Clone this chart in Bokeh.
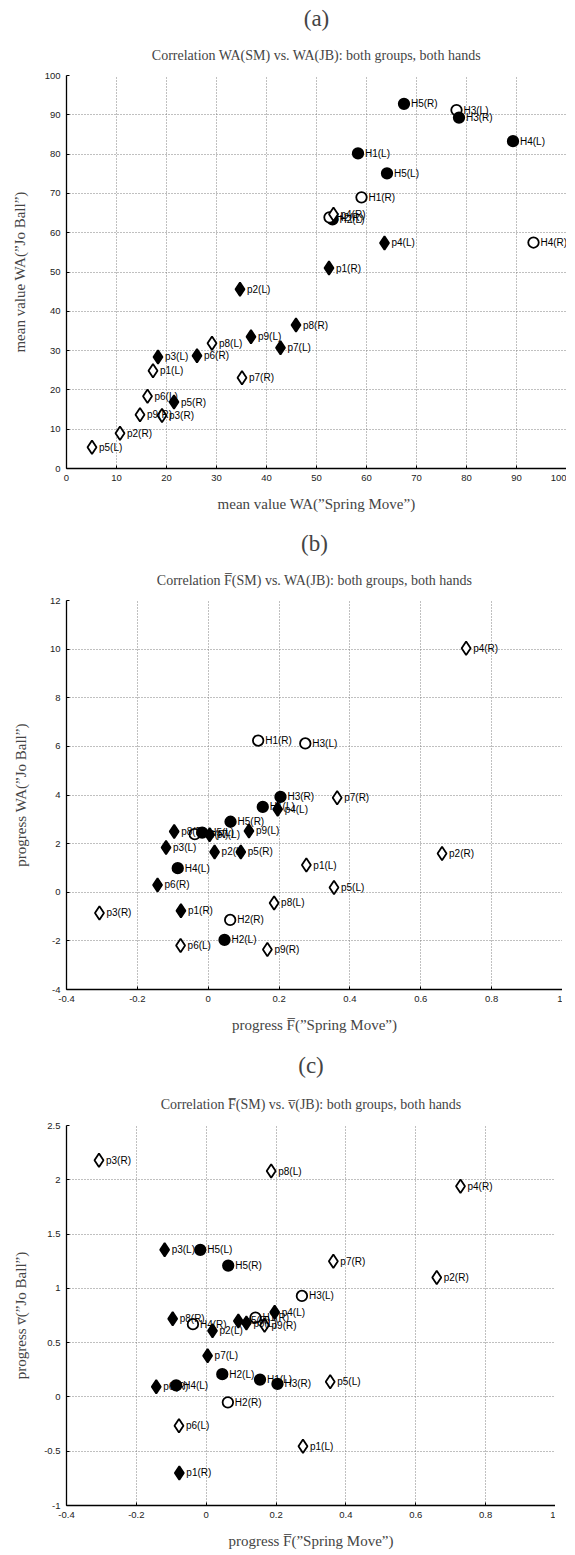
from bokeh.plotting import figure
from bokeh.models import Title, FixedTicker, ColumnDataSource, Range1d
from bokeh.layouts import column
from bokeh.core.properties import value, field
from bokeh.embed import file_html
from bokeh.resources import INLINE

# ---------------- data ----------------
names = ["H1(L)", "H1(R)", "H2(L)", "H2(R)", "H3(L)", "H3(R)", "H4(L)", "H4(R)", "H5(L)", "H5(R)",
         "p1(L)", "p1(R)", "p2(L)", "p2(R)", "p3(L)", "p3(R)", "p4(L)", "p4(R)", "p5(L)", "p5(R)",
         "p6(L)", "p6(R)", "p7(L)", "p7(R)", "p8(L)", "p8(R)", "p9(L)", "p9(R)"]
filled = [True, False, True, False, False, True, True, False, True, True,
          False, True, True, False, True, False, True, False, False, True,
          False, True, True, False, False, True, True, False]

# (a) mean value WA
wa_sm = [58.3, 59.0, 53.2, 52.6, 78.0, 78.5, 89.3, 93.4, 64.1, 67.5,
         17.3, 52.5, 34.7, 10.7, 18.3, 19.1, 63.6, 53.4, 5.1, 21.5,
         16.2, 26.1, 42.8, 35.1, 29.1, 45.9, 36.9, 14.7]
wa_jb = [80.2, 69.0, 63.4, 63.9, 91.2, 89.3, 83.3, 57.5, 75.1, 92.8,
         24.9, 51.0, 45.6, 9.0, 28.4, 13.5, 57.4, 64.7, 5.4, 16.9,
         18.4, 28.7, 30.7, 23.1, 31.9, 36.5, 33.5, 13.7]

# (b), (c) progress
prog_f_sm = [0.154, 0.141, 0.046, 0.062, 0.274, 0.204, -0.086, -0.038, -0.017, 0.063,
             0.277, -0.077, 0.018, 0.660, -0.119, -0.307, 0.196, 0.728, 0.355, 0.092,
             -0.078, -0.143, 0.004, 0.364, 0.186, -0.096, 0.115, 0.167]
prog_wa_jb = [3.51, 6.24, -1.96, -1.14, 6.12, 3.92, 0.99, 2.39, 2.45, 2.90,
              1.12, -0.76, 1.66, 1.59, 1.84, -0.85, 3.41, 10.04, 0.20, 1.66,
              -2.19, 0.30, 2.36, 3.89, -0.44, 2.50, 2.52, -2.35]
prog_v_jb = [0.16, 0.73, 0.21, -0.05, 0.93, 0.12, 0.107, 0.67, 1.355, 1.21,
             -0.455, -0.70, 0.61, 1.10, 1.355, 2.18, 0.78, 1.94, 0.14, 0.70,
             -0.265, 0.094, 0.38, 1.25, 2.08, 0.72, 0.68, 0.66]

ticks_a = [0, 10, 20, 30, 40, 50, 60, 70, 80, 90, 100]
tick_labels_a = ["0", "10", "20", "30", "40", "50", "60", "70", "80", "90", "100"]
ticks_prog_x = [-0.4, -0.2, 0, 0.2, 0.4, 0.6, 0.8, 1.0]
tick_labels_prog_x = ["-0.4", "-0.2", "0", "0.2", "0.4", "0.6", "0.8", "1"]
ticks_b_y = [-4, -2, 0, 2, 4, 6, 8, 10, 12]
tick_labels_b_y = ["-4", "-2", "0", "2", "4", "6", "8", "10", "12"]
ticks_c_y = [-1, -0.5, 0, 0.5, 1, 1.5, 2, 2.5]
tick_labels_c_y = ["-1", "-0.5", "0", "0.5", "1", "1.5", "2", "2.5"]

SERIF = "Liberation Serif"
SANS = "Liberation Sans"


def panel(tag, title, xs, ys, xr, yr, xt, xtl, yt, ytl, xlabel, ylabel,
          fw, height, top, bottom, ylab_standoff, title_standoff, tag_standoff):
    p = figure(frame_width=fw, height=height, x_range=Range1d(*xr), y_range=Range1d(*yr),
               output_backend="svg", toolbar_location=None, title=tag,
               min_border_left=66, min_border_right=0,
               min_border_top=top, min_border_bottom=bottom)
    p.outline_line_color = None
    p.background_fill_color = "white"
    p.border_fill_color = "white"
    p.title.text_font = SERIF
    p.title.text_font_size = "23px"
    p.title.text_font_style = "normal"
    p.title.align = "center"
    p.title.offset = -26
    p.title.standoff = tag_standoff
    t2 = Title(text=title, align="center", text_font=SERIF, text_font_size="14px",
               text_font_style="normal", offset=-26, standoff=title_standoff)
    p.add_layout(t2, "above")

    for ax, ticks, labels in ((p.xaxis[0], xt, xtl), (p.yaxis[0], yt, ytl)):
        ax.ticker = FixedTicker(ticks=ticks)
        ax.major_label_overrides = {t: l for t, l in zip(ticks, labels)}
        ax.major_label_text_font = SANS
        ax.major_label_text_font_size = "9.5px"
        ax.major_label_text_color = "#222222"
        ax.axis_line_color = "black"
        ax.axis_line_width = 1.3
        ax.major_tick_in = 3
        ax.major_tick_out = 0
        ax.major_tick_line_color = "black"
        ax.minor_tick_line_color = None
        ax.axis_label_text_font = SERIF
        ax.axis_label_text_font_size = "15px"
        ax.axis_label_text_font_style = "normal"
        ax.major_label_standoff = 6
    p.xaxis.axis_label = xlabel
    p.yaxis.axis_label = ylabel
    p.xaxis.axis_label_standoff = 12
    p.yaxis.axis_label_standoff = ylab_standoff

    p.xgrid.ticker = FixedTicker(ticks=xt)
    p.ygrid.ticker = FixedTicker(ticks=yt)
    for g in (p.xgrid[0], p.ygrid[0]):
        g.grid_line_color = "#808080"
        g.grid_line_dash = "1 2"
        g.grid_line_width = 1

    src = ColumnDataSource(dict(
        x=xs, y=ys, name=names,
        m=["circle" if n.startswith("H") else "diamond" for n in names],
        s=[10.5 if n.startswith("H") else 13.5 for n in names],
        fc=["black" if f else "white" for f in filled],
    ))
    p.scatter(x="x", y="y", source=src, marker=field("m"), size="s",
              fill_color="fc", line_color="black", line_width=1.8)
    p.text(x="x", y="y", text="name", source=src, x_offset=7,
           text_baseline="middle", text_align="left",
           text_font=value(SANS), text_font_size="10px", text_color="black")
    return p


pa = panel("(a)", "Correlation WA(SM) vs. WA(JB): both groups, both hands",
           wa_sm, wa_jb, (0, 100), (0, 100), ticks_a, tick_labels_a, ticks_a, tick_labels_a,
           "mean value WA(\u201dSpring Move\u201d)", "mean value WA(\u201dJo Ball\u201d)",
           500, 527, 75, 59, 14, 26, 3)
pb = panel("(b)", "Correlation F\u0305(SM) vs. WA(JB): both groups, both hands",
           prog_f_sm, prog_wa_jb, (-0.4, 1.0), (-4, 12), ticks_prog_x, tick_labels_prog_x,
           ticks_b_y, tick_labels_b_y,
           "progress F\u0305(\u201dSpring Move\u201d)", "progress WA(\u201dJo Ball\u201d)",
           496, 520, 72, 58, 18, 26, 3)
pc = panel("(c)", "Correlation F\u0305(SM) vs. v\u0305(JB): both groups, both hands",
           prog_f_sm, prog_v_jb, (-0.4, 1.0), (-1, 2.5), ticks_prog_x, tick_labels_prog_x,
           ticks_c_y, tick_labels_c_y,
           "progress F\u0305(\u201dSpring Move\u201d)", "progress v\u0305(\u201dJo Ball\u201d)",
           489, 506, 75, 48, 12, 27, 7)

p = column(pa, pb, pc, spacing=0)
open("out.html", "w").write(file_html(p, INLINE))
